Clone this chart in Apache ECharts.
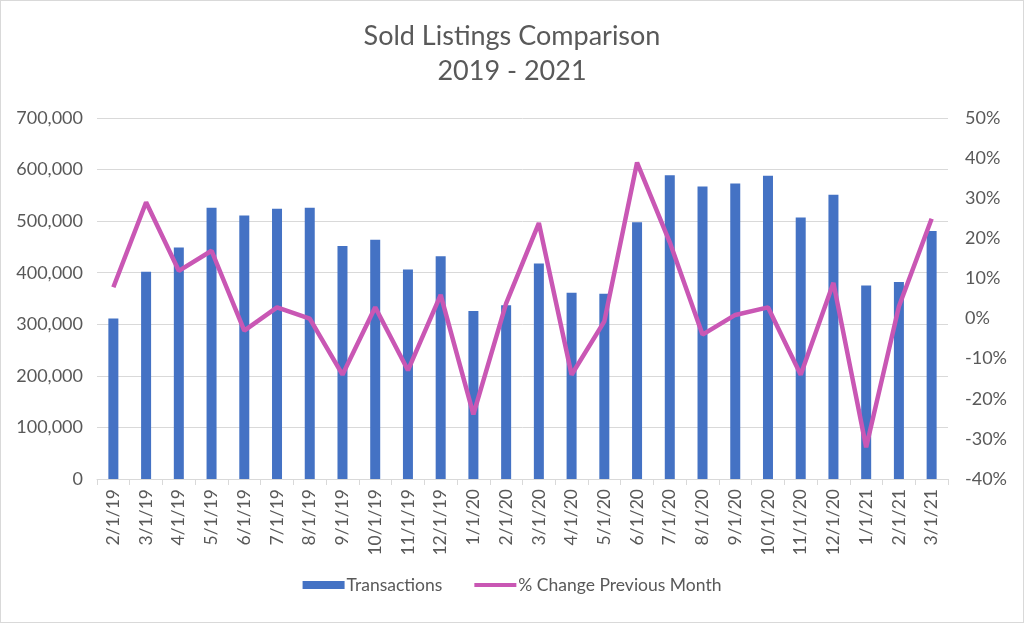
<!DOCTYPE html>
<html>
<head>
<meta charset="utf-8">
<script src="https://cdn.jsdelivr.net/npm/echarts@6/dist/echarts.min.js"></script>
<style>
html,body{margin:0;padding:0;background:#fff;}
#chart{width:1024px;height:623px;box-sizing:border-box;border:1px solid #d9d9d9;}
</style>
</head>
<body>
<div id="chart"></div>
<script>
const categories = ['2/1/19','3/1/19','4/1/19','5/1/19','6/1/19','7/1/19','8/1/19','9/1/19','10/1/19','11/1/19','12/1/19','1/1/20','2/1/20','3/1/20','4/1/20','5/1/20','6/1/20','7/1/20','8/1/20','9/1/20','10/1/20','11/1/20','12/1/20','1/1/21','2/1/21','3/1/21'];
const transactions = [311000,402000,449000,526000,511000,524000,526000,452000,464000,406000,432000,326000,337000,418000,361000,359000,498000,589000,567000,573000,588000,507000,551000,375000,382000,481000];
const pctChange = [7.8,29,11.9,16.9,-3,2.8,0,-14,2.8,-12.9,5.9,-23.9,3.8,23.8,-14,-0.7,38.9,19,-4,0.9,2.8,-14,8.9,-32.1,3,24.9];
const leftTicks = {min:0,max:700000,interval:100000};
const rightTicks = {min:-40,max:50,interval:10};

const txt = '#595959';
const font = 'Lato, "Open Sans", sans-serif';
const chart = echarts.init(document.getElementById('chart'));
chart.setOption({
  animation:false,
  textStyle:{fontFamily:font},
  title:{
    text:'Sold Listings Comparison\n2019 - 2021',
    left:'center', top:13,
    textStyle:{fontFamily:font,fontSize:27,fontWeight:'normal',color:txt,lineHeight:35}
  },
  legend:{
    bottom:23, left:'center', itemGap:32, itemWidth:42, itemHeight:8,
    textStyle:{fontFamily:font,fontSize:17.5,color:txt,padding:[0,0,0,-3]},
    data:[
      {name:'Transactions',icon:'rect'},
      {name:'% Change Previous Month',icon:'path://M0,0 L42,0 L42,4 L0,4 Z'}
    ]
  },
  grid:{left:96,right:75,top:117,bottom:143,containLabel:false},
  xAxis:{
    type:'category', data:categories, boundaryGap:true,
    axisLine:{lineStyle:{color:'#d9d9d9',width:1}},
    axisTick:{show:true,alignWithLabel:false,length:6,lineStyle:{color:'#d9d9d9'}},
    axisLabel:{rotate:90,fontSize:17.5,color:txt,margin:10,interval:0,fontFamily:font}
  },
  yAxis:[
    {type:'value',min:leftTicks.min,max:leftTicks.max,interval:leftTicks.interval,
     axisLine:{show:false},axisTick:{show:false},
     splitLine:{lineStyle:{color:'#d9d9d9',width:1}},
     axisLabel:{fontSize:18,color:txt,margin:14,fontFamily:font,
       formatter:v=>v.toLocaleString('en-US')}},
    {type:'value',min:rightTicks.min,max:rightTicks.max,interval:rightTicks.interval,
     axisLine:{show:false},axisTick:{show:false},splitLine:{show:false},
     axisLabel:{fontSize:18,color:txt,margin:17,fontFamily:font,formatter:'{value}%'}}
  ],
  series:[
    {name:'Transactions',type:'bar',data:transactions,barWidth:10,
     itemStyle:{color:'#4472C4'},yAxisIndex:0,z:2},
    {name:'% Change Previous Month',type:'line',data:pctChange,yAxisIndex:1,
     symbol:'none',lineStyle:{color:'#C957B4',width:4.5},itemStyle:{color:'#C957B4'},z:3}
  ]
});
</script>
</body>
</html>
